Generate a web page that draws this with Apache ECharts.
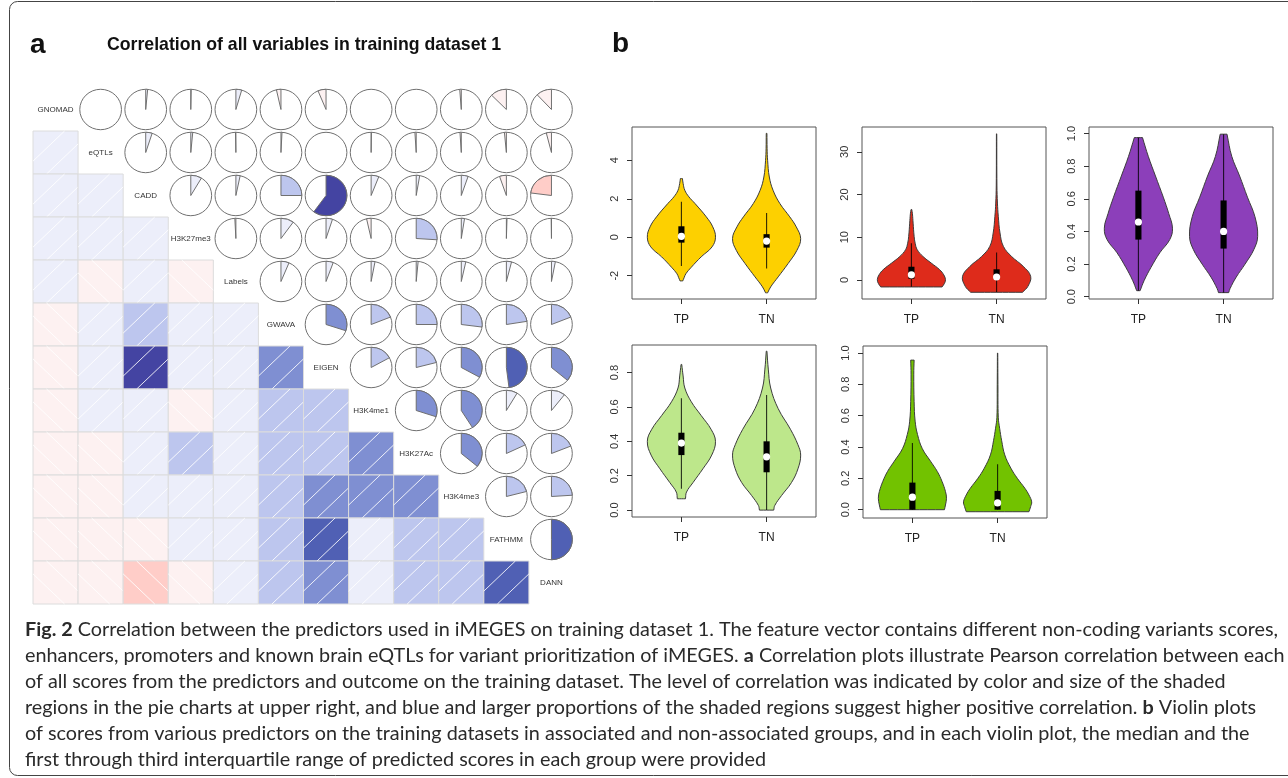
<!DOCTYPE html>
<html><head><meta charset="utf-8">
<script src="https://cdn.jsdelivr.net/npm/echarts@6/dist/echarts.min.js"></script>
<style>html,body{margin:0;padding:0;background:#fff}#c{width:1288px;height:778px}</style>
</head><body><div id="c"></div>
<script>
// ---------------- DATA ----------------
const variables = ['GNOMAD','eQTLs','CADD','H3K27me3','Labels','GWAVA','EIGEN','H3K4me1','H3K27Ac','H3K4me3','FATHMM','DANN'];
// Pearson r, upper triangle: row i holds columns i+1 .. 11
const corrRows = [
  [0.0005, 0.015, 0.003, 0.045, -0.035, -0.063, -0.0005, -0.0005, -0.012, -0.125, -0.12],
  [0.05, 0.015, -0.003, 0.008, 0.0005, 0.002, -0.01, -0.01, -0.015, -0.04],
  [0.085, 0.033, 0.25, 0.6, 0.06, 0.027, 0.053, -0.053, -0.23],
  [-0.008, 0.1, 0.05, -0.035, 0.26, 0.025, 0.005, -0.002],
  [0.063, 0.056, 0.03, 0.015, 0.035, 0.04, 0.03],
  [0.30, 0.19, 0.25, 0.27, 0.225, 0.19],
  [0.17, 0.21, 0.33, 0.48, 0.36],
  [0.30, 0.41, 0.086, 0.107],
  [0.36, 0.18, 0.19],
  [0.21, 0.24],
  [0.5]
];
const corrPalette = ['#ff0000','#fb2a24','#f85048','#f7766c','#fa9a90','#ffcdc8','#fdf1f1',
                     '#eceefa','#bdc6ee','#7f8fd2','#5060b4','#4444a2','#2a2a8a','#101070'];

const groups = ['TP','TN'];
// violin outlines: [value, relative half width]
const yellowTP = [[-2.27,0.04],[-2.1,0.08],[-1.9,0.13],[-1.56,0.29],[-1.02,0.58],[-0.5,0.9],[0,1],[0.54,0.92],[1.06,0.73],[1.75,0.4],[2.1,0.22],[2.44,0.1],[2.8,0.05],[3.05,0.03]];
const yellowTN = [[-2.89,0.03],[-2.58,0.12],[-2.06,0.34],[-1.37,0.63],[-0.68,0.89],[-0.07,1],[0.54,0.87],[1.06,0.68],[1.75,0.39],[2.44,0.19],[3.13,0.08],[4.0,0.03],[4.6,0.015],[5.4,0.01]];
const redTP = [[-1.63,0.9],[-0.8,0.97],[0.08,1],[1.2,0.95],[2.4,0.83],[3.97,0.58],[5.5,0.34],[7.1,0.17],[8.6,0.11],[10.2,0.08],[13.3,0.05],[15.5,0.03],[16.5,0.01]];
const redTN = [[-2.88,0.76],[-1.48,0.92],[0.86,1],[3.2,0.78],[5.5,0.44],[7.86,0.2],[11,0.1],[14.9,0.05],[18,0.025],[22,0.01],[34.2,0.005]];
const purpleTP = [[0.037,0.05],[0.10,0.17],[0.18,0.37],[0.27,0.63],[0.35,0.92],[0.42,1],[0.51,0.89],[0.61,0.73],[0.74,0.5],[0.86,0.29],[0.975,0.12]];
const purpleTN = [[0.025,0.15],[0.05,0.19],[0.12,0.37],[0.20,0.63],[0.29,0.89],[0.37,1],[0.49,0.92],[0.61,0.7],[0.74,0.47],[0.86,0.24],[0.996,0.1]];
const lightGreenTP = [[0.066,0.12],[0.105,0.15],[0.16,0.34],[0.24,0.63],[0.32,0.89],[0.40,1],[0.47,0.87],[0.55,0.58],[0.63,0.29],[0.71,0.1],[0.78,0.05],[0.847,0.01]];
const lightGreenTN = [[0.0,0.21],[0.027,0.24],[0.085,0.44],[0.16,0.73],[0.24,0.92],[0.32,1],[0.38,0.92],[0.47,0.7],[0.59,0.34],[0.71,0.12],[0.82,0.05],[0.924,0.01]];
const greenTP = [[0.0,0.94],[0.03,0.97],[0.073,1],[0.116,0.97],[0.18,0.87],[0.244,0.73],[0.31,0.53],[0.39,0.29],[0.48,0.15],[0.565,0.08],[0.69,0.05],[0.865,0.04],[0.955,0.05]];
const greenTN = [[-0.013,0.92],[0.02,0.97],[0.05,1],[0.094,0.92],[0.137,0.8],[0.2,0.58],[0.265,0.39],[0.35,0.21],[0.44,0.12],[0.52,0.06],[0.59,0.02],[0.8,0.01],[1.0,0.005]];
// box stats: [lower whisker, q1, median, q3, upper whisker]
const yellowStats = [[-1.49,-0.28,0.05,0.57,1.84],[-1.63,-0.54,-0.2,0.16,1.26]];
const redStats = [[-1.6,0.3,1.2,3.1,8.6],[-2.88,0.2,0.7,2.5,6.46]];
const purpleStats = [[0.037,0.35,0.458,0.65,0.975],[0.025,0.295,0.40,0.59,0.996]];
const lightGreenStats = [[0.124,0.32,0.39,0.45,0.65],[0.0,0.22,0.31,0.40,0.67]];
const greenStats = [[0.0,0.0,0.08,0.173,0.426],[0.0,0.0,0.043,0.12,0.29]];
// tick labels
const yellowTicks = ['-2','0','2','4'];
const redTicks = ['0','10','20','30'];
const purpleTicks = ['0.0','0.2','0.4','0.6','0.8','1.0'];
const lightGreenTicks = ['0.0','0.2','0.4','0.6','0.8'];
const greenTicks = ['0.0','0.2','0.4','0.6','0.8','1.0'];

const titleText = 'Correlation of all variables in training dataset 1';
const captionLines = [
  '{b|Fig. 2} Correlation between the predictors used in iMEGES on training dataset 1. The feature vector contains different non-coding variants scores,',
  'enhancers, promoters and known brain eQTLs for variant prioritization of iMEGES. {b|a} Correlation plots illustrate Pearson correlation between each',
  'of all scores from the predictors and outcome on the training dataset. The level of correlation was indicated by color and size of the shaded',
  'regions in the pie charts at upper right, and blue and larger proportions of the shaded regions suggest higher positive correlation. {b|b} Violin plots',
  'of scores from various predictors on the training datasets in associated and non-associated groups, and in each violin plot, the median and the',
  'first through third interquartile range of predicted scores in each group were provided'
];

// ---------------- BUILD ----------------
const FONT = '"Liberation Sans", Arial, Helvetica, sans-serif';
function corrColor(r){ return corrPalette[Math.max(0, Math.min(13, Math.floor((r + 1) * 7)))]; }
const lowerCells = [], upperCells = [];
corrRows.forEach((row, i) => row.forEach((r, k) => {
  const j = i + 1 + k;
  upperCells.push([j, i, r]);      // pie in row i, column j
  lowerCells.push([i, j, r]);      // shaded square in row j, column i
}));

const grids = [
  {left:33, top:88, width:541, height:516},
  {left:632, top:127, width:184, height:172},
  {left:862, top:127, width:184, height:172},
  {left:1089, top:127, width:184, height:172},
  {left:632, top:345, width:184, height:172},
  {left:863, top:346, width:184, height:172}
];
grids.forEach((g, k) => { g.show = k > 0; g.borderColor = '#555'; g.borderWidth = 1; g.backgroundColor = 'transparent'; });

function vx(g){
  return {gridIndex:g, type:'value', min:0.42, max:2.58,
    axisLine:{show:false, onZero:false}, splitLine:{show:false},
    axisTick:{show:true, customValues:[1,2], length:5, lineStyle:{color:'#333'}},
    axisLabel:{show:true, customValues:[1,2], formatter:v => groups[Math.round(v) - 1],
      fontSize:12, color:'#222', margin:15, fontFamily:FONT}};
}
function vy(g, min, max, ticks){
  const vals = ticks.map(Number);
  return {gridIndex:g, type:'value', min, max,
    axisLine:{show:false, onZero:false}, splitLine:{show:false},
    axisTick:{show:true, customValues:vals, length:5, lineStyle:{color:'#333'}},
    axisLabel:{show:true, customValues:vals, rotate:90, fontSize:11, color:'#333', margin:12, fontFamily:FONT,
      formatter:v => { let b = 0; vals.forEach((t, k) => { if (Math.abs(t - v) < Math.abs(vals[b] - v)) b = k; }); return ticks[b]; }}};
}

const HALF = 0.4, BOX = 0.036;
function violinSeries(ax, shapes, stats, fill){
  return {type:'custom', xAxisIndex:ax, yAxisIndex:ax, silent:true, animation:false,
    data: groups.map((g, k) => [k + 1]),
    renderItem(params, api){
      const k = params.dataIndex, x = api.value(0);
      const shp = shapes[k], st = stats[k];
      const right = shp.map(([v, w]) => api.coord([x + w * HALF, v]));
      const left = shp.map(([v, w]) => api.coord([x - w * HALF, v])).reverse();
      const pts = [right[0]].concat(right, [right[right.length-1], left[0]], left, [left[left.length-1]]);
      const lo = api.coord([x, st[0]]), hi = api.coord([x, st[4]]);
      const b1 = api.coord([x - BOX, st[3]]), b2 = api.coord([x + BOX, st[1]]);
      const md = api.coord([x, st[2]]);
      return {type:'group', children:[
        {type:'polygon', shape:{points:pts, smooth:0.4}, style:{fill, stroke:'#3c3c3c', lineWidth:1}},
        {type:'line', shape:{x1:lo[0], y1:lo[1], x2:hi[0], y2:hi[1]}, style:{stroke:'rgba(0,0,0,0.8)', lineWidth:1.1}},
        {type:'rect', shape:{x:b1[0], y:b1[1], width:b2[0]-b1[0], height:Math.max(1, b2[1]-b1[1])}, style:{fill:'#000'}},
        {type:'circle', shape:{cx:md[0], cy:md[1], r:3.6}, style:{fill:'#fff'}}
      ]};
    }};
}

const series = [
  {type:'custom', xAxisIndex:0, yAxisIndex:0, silent:true, animation:false, data:lowerCells,
    renderItem(params, api){
      const j = api.value(0), i = api.value(1), r = api.value(2);
      const p0 = api.coord([j, i]), p1 = api.coord([j + 1, i + 1]);
      const x0 = p0[0], y0 = p0[1], w = p1[0] - x0, h = p1[1] - y0, d = 0.3;
      const L = r >= 0
        ? [[x0, y0 + h*(1-d), x0 + w*(1-d), y0], [x0 + w*d, y0 + h, x0 + w, y0 + h*d]]
        : [[x0 + w, y0 + h*(1-d), x0 + w*d, y0], [x0 + w*(1-d), y0 + h, x0, y0 + h*d]];
      return {type:'group', children:[
        {type:'rect', shape:{x:x0, y:y0, width:w, height:h}, style:{fill:corrColor(r), stroke:'#dcdcdc', lineWidth:1}}
      ].concat(L.map(l => ({type:'line', shape:{x1:l[0], y1:l[1], x2:l[2], y2:l[3]},
        style:{stroke:'rgba(255,255,255,0.85)', lineWidth:1}})))};
    }},
  {type:'custom', xAxisIndex:0, yAxisIndex:0, silent:true, animation:false, data:upperCells,
    renderItem(params, api){
      const j = api.value(0), i = api.value(1), r = api.value(2);
      const c0 = api.coord([j, i]), c1 = api.coord([j + 1, i + 1]);
      const cx = (c0[0] + c1[0]) / 2, cy = (c0[1] + c1[1]) / 2;
      const rx = (c1[0] - c0[0]) / 2 * 0.925, ry = (c1[1] - c0[1]) / 2 * 0.94;
      const s = -Math.PI / 2, a = 2 * Math.PI * Math.abs(r);
      const ch = [{type:'circle', shape:{cx:0, cy:0, r:rx}, style:{fill:'#fff', stroke:'#6e6e6e', lineWidth:1}}];
      if (Math.abs(r) >= 0.001) ch.push({type:'sector',
        shape:{cx:0, cy:0, r:rx, r0:0, startAngle: r > 0 ? s : s - a, endAngle: r > 0 ? s + a : s, clockwise:true},
        style:{fill:corrColor(r), stroke:'#6e6e6e', lineWidth:1}});
      return {type:'group', x:cx, y:cy, scaleY:ry/rx, children:ch};
    }},
  {type:'custom', xAxisIndex:0, yAxisIndex:0, silent:true, animation:false, data:variables.map((n, k) => [k, k]),
    renderItem(params, api){
      const k = api.value(0), p = api.coord([k + 0.5, k + 0.5]);
      return {type:'text', x:p[0], y:p[1], style:{text:variables[k], fontSize:8, fontFamily:FONT, fill:'#333',
        align:'center', verticalAlign:'middle', textAlign:'center', textVerticalAlign:'middle'}};
    }},
  violinSeries(1, [yellowTP, yellowTN], yellowStats, '#FDD000'),
  violinSeries(2, [redTP, redTN], redStats, '#DE2B1B'),
  violinSeries(3, [purpleTP, purpleTN], purpleStats, '#8C3FBA'),
  violinSeries(4, [lightGreenTP, lightGreenTN], lightGreenStats, '#BDE78B'),
  violinSeries(5, [greenTP, greenTN], greenStats, '#72C200')
];

// caption font size fitted to the first line width
const CAPFONT = 'Lato, "Open Sans", sans-serif';
const cv = document.createElement('canvas').getContext('2d');
function lineWidth(s, size){
  let w = 0; const re = /\{b\|([^}]*)\}|([^{]+)/g; let m;
  while ((m = re.exec(s))) {
    cv.font = (m[1] !== undefined ? 'bold ' : '') + size + 'px ' + CAPFONT;
    w += cv.measureText(m[1] !== undefined ? m[1] : m[2]).width;
  }
  return w;
}
const capSize = 16 * 1254 / lineWidth(captionLines[0], 16);

const graphic = [
  {type:'rect', shape:{x:9.5, y:1.5, width:1300, height:774, r:[8,0,0,8]}, style:{fill:'none', stroke:'#444', lineWidth:1}, silent:true},
  {type:'text', x:30, y:45, style:{text:'a', font:'bold 28px ' + FONT, fill:'#111', textVerticalAlign:'middle', verticalAlign:'middle'}},
  {type:'text', x:612, y:44, style:{text:'b', font:'bold 28px ' + FONT, fill:'#111', textVerticalAlign:'middle', verticalAlign:'middle'}},
  {type:'text', x:107, y:45, style:{text:titleText, font:'bold 17.7px ' + FONT, fill:'#111', textVerticalAlign:'middle', verticalAlign:'middle'}}
].concat(captionLines.map((t, k) => ({type:'text', x:25, y:630 + 26 * k,
  style:{text:t, font:capSize.toFixed(2) + 'px ' + CAPFONT, fill:'#2a2a2a', textVerticalAlign:'middle', verticalAlign:'middle',
    rich:{b:{fontWeight:'bold', fontSize:capSize, fontFamily:CAPFONT, fill:'#2a2a2a'}}}})));

const chart = echarts.init(document.getElementById('c'), null, {renderer:'canvas'});
chart.setOption({
  animation:false, backgroundColor:'#fff',
  grid: grids,
  xAxis: [{gridIndex:0, type:'value', min:0, max:12, show:false}, vx(1), vx(2), vx(3), vx(4), vx(5)],
  yAxis: [{gridIndex:0, type:'value', min:0, max:12, inverse:true, show:false},
    vy(1, -3.21, 5.73, yellowTicks), vy(2, -4.45, 35.8, redTicks), vy(3, -0.014, 1.04, purpleTicks),
    vy(4, -0.04, 0.96, lightGreenTicks), vy(5, -0.053, 1.045, greenTicks)],
  series, graphic
});
</script></body></html>
